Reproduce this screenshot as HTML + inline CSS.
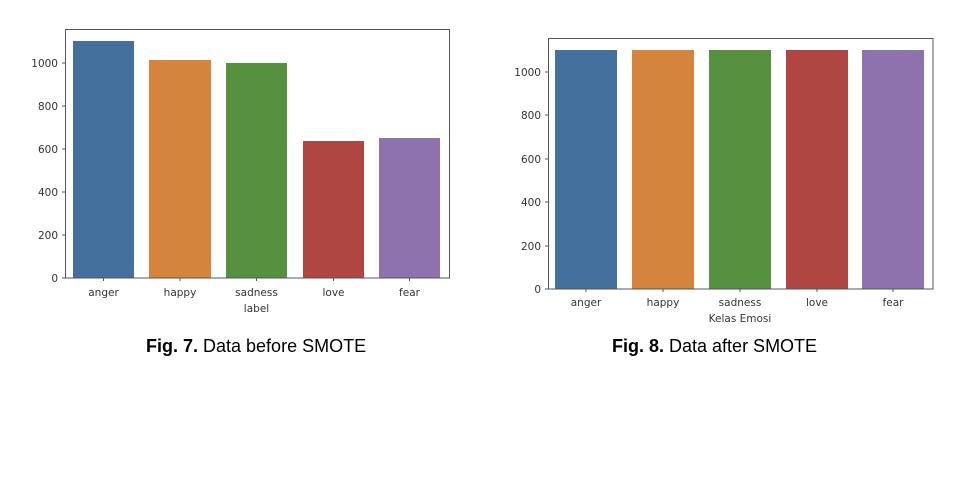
<!DOCTYPE html>
<html><head><meta charset="utf-8"><style>
html,body{margin:0;padding:0;background:#fff;}
svg{display:block;}
text{font-family:"DejaVu Sans","Liberation Sans",sans-serif;fill:#333;}
.cap{font-family:"Liberation Sans",sans-serif;font-size:18px;fill:#000;}
</style></head><body>
<svg width="970" height="486" viewBox="0 0 970 486" xmlns="http://www.w3.org/2000/svg">
<rect width="970" height="486" fill="#fff"/>
<!-- Left chart -->
<g font-size="10.5">
<rect x="73" y="41" width="61" height="237" fill="#44709d"/>
<rect x="149" y="60" width="62" height="218" fill="#d5843e"/>
<rect x="226" y="63" width="61" height="215" fill="#55913f"/>
<rect x="303" y="141" width="61" height="137" fill="#b04642"/>
<rect x="379" y="138" width="61" height="140" fill="#8e72ad"/>
<rect x="65.5" y="29.5" width="384" height="248.5" fill="none" stroke="#555" stroke-width="1"/>
<g text-anchor="end">
<text x="58" y="67">1000</text><text x="58" y="110">800</text><text x="58" y="153">600</text>
<text x="58" y="196">400</text><text x="58" y="239">200</text><text x="58" y="282">0</text>
</g>
<g stroke="#555"><line x1="62" y1="63" x2="65" y2="63"/><line x1="62" y1="106" x2="65" y2="106"/><line x1="62" y1="149" x2="65" y2="149"/><line x1="62" y1="192" x2="65" y2="192"/><line x1="62" y1="235" x2="65" y2="235"/><line x1="62" y1="278" x2="65" y2="278"/>
<line x1="103.5" y1="278" x2="103.5" y2="281"/><line x1="180" y1="278" x2="180" y2="281"/><line x1="256.5" y1="278" x2="256.5" y2="281"/><line x1="333.5" y1="278" x2="333.5" y2="281"/><line x1="409.5" y1="278" x2="409.5" y2="281"/></g>
<g text-anchor="middle">
<text x="103.5" y="296">anger</text><text x="180" y="296">happy</text><text x="256.5" y="296">sadness</text><text x="333.5" y="296">love</text><text x="409.5" y="296">fear</text>
<text x="256.5" y="312">label</text>
</g>
</g>
<!-- Right chart -->
<g font-size="10.5">
<rect x="555" y="50" width="62" height="239" fill="#44709d"/>
<rect x="632" y="50" width="62" height="239" fill="#d5843e"/>
<rect x="709" y="50" width="62" height="239" fill="#55913f"/>
<rect x="786" y="50" width="62" height="239" fill="#b04642"/>
<rect x="862" y="50" width="62" height="239" fill="#8e72ad"/>
<rect x="548.5" y="38.5" width="384.5" height="250.5" fill="none" stroke="#555" stroke-width="1"/>
<g text-anchor="end">
<text x="541" y="76">1000</text><text x="541" y="119">800</text><text x="541" y="163">600</text>
<text x="541" y="206">400</text><text x="541" y="250">200</text><text x="541" y="293">0</text>
</g>
<g stroke="#555"><line x1="545" y1="72" x2="548" y2="72"/><line x1="545" y1="115" x2="548" y2="115"/><line x1="545" y1="159" x2="548" y2="159"/><line x1="545" y1="202" x2="548" y2="202"/><line x1="545" y1="246" x2="548" y2="246"/><line x1="545" y1="289" x2="548" y2="289"/>
<line x1="586" y1="289" x2="586" y2="292"/><line x1="663" y1="289" x2="663" y2="292"/><line x1="740" y1="289" x2="740" y2="292"/><line x1="817" y1="289" x2="817" y2="292"/><line x1="893" y1="289" x2="893" y2="292"/></g>
<g text-anchor="middle">
<text x="586" y="306">anger</text><text x="663" y="306">happy</text><text x="740" y="306">sadness</text><text x="817" y="306">love</text><text x="893" y="306">fear</text>
<text x="740" y="322">Kelas Emosi</text>
</g>
</g>
<text class="cap" x="146" y="352"><tspan font-weight="bold">Fig. 7.</tspan> Data before SMOTE</text>
<text class="cap" x="612" y="352"><tspan font-weight="bold">Fig. 8.</tspan> Data after SMOTE</text>
</svg>
</body></html>
